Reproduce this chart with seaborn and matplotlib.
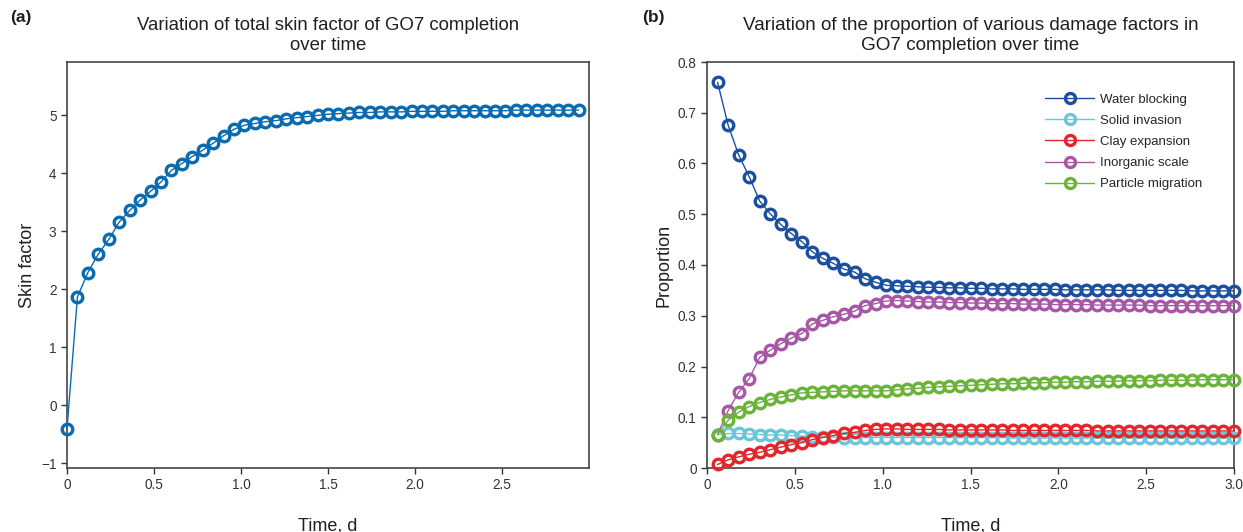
import numpy as np
import pandas as pd
import matplotlib
matplotlib.use("Agg")
import matplotlib.pyplot as plt
import seaborn as sns

#------------------------------ DATA ------------------------------
# (a) total skin factor, one point every 0.06 d from 0
time_a = np.round(np.arange(50) * 0.06, 2)
skin_factor = [-0.40, 1.87, 2.29, 2.61, 2.86, 3.16, 3.36, 3.54, 3.69, 3.85,
               4.05, 4.17, 4.29, 4.40, 4.52, 4.65, 4.76, 4.83, 4.86, 4.89,
               4.91, 4.94, 4.96, 4.98, 5.00, 5.02, 5.03, 5.04, 5.05, 5.05,
               5.06, 5.06, 5.06, 5.07, 5.07, 5.07, 5.07, 5.08, 5.08, 5.08,
               5.08, 5.08, 5.08, 5.09, 5.09, 5.09, 5.09, 5.09, 5.09, 5.09]

# (b) proportion of each damage factor, one point every 0.06 d from 0.06
time_b = np.round(np.arange(1, 51) * 0.06, 2)
water_blocking = [0.760, 0.676, 0.617, 0.574, 0.526, 0.501, 0.480, 0.462, 0.446, 0.426,
                  0.413, 0.403, 0.392, 0.386, 0.373, 0.366, 0.360, 0.359, 0.358, 0.357,
                  0.356, 0.356, 0.355, 0.355, 0.354, 0.354, 0.353, 0.353, 0.353, 0.352,
                  0.352, 0.352, 0.352, 0.351, 0.351, 0.351, 0.351, 0.351, 0.350, 0.350,
                  0.350, 0.350, 0.350, 0.350, 0.350, 0.349, 0.349, 0.349, 0.349, 0.349]
solid_invasion = [0.066, 0.068, 0.068, 0.067, 0.066, 0.065, 0.065, 0.064, 0.063, 0.062,
                  0.062, 0.061, 0.060, 0.060, 0.060, 0.060, 0.060, 0.060, 0.060, 0.060,
                  0.060, 0.060, 0.060, 0.060, 0.060, 0.060, 0.060, 0.060, 0.059, 0.059,
                  0.059, 0.059, 0.059, 0.059, 0.059, 0.059, 0.059, 0.059, 0.059, 0.059,
                  0.059, 0.059, 0.059, 0.059, 0.059, 0.059, 0.059, 0.059, 0.059, 0.059]
clay_expansion = [0.007, 0.016, 0.022, 0.027, 0.031, 0.036, 0.041, 0.046, 0.050, 0.056,
                  0.060, 0.064, 0.068, 0.070, 0.074, 0.076, 0.077, 0.077, 0.076, 0.076,
                  0.076, 0.076, 0.075, 0.075, 0.075, 0.075, 0.075, 0.075, 0.074, 0.074,
                  0.074, 0.074, 0.074, 0.074, 0.074, 0.074, 0.073, 0.073, 0.073, 0.073,
                  0.073, 0.073, 0.073, 0.073, 0.073, 0.073, 0.073, 0.073, 0.073, 0.073]
inorganic_scale = [0.066, 0.113, 0.149, 0.176, 0.218, 0.232, 0.245, 0.256, 0.265, 0.284,
                   0.291, 0.298, 0.303, 0.309, 0.320, 0.324, 0.329, 0.330, 0.329, 0.328,
                   0.327, 0.327, 0.326, 0.326, 0.325, 0.325, 0.324, 0.324, 0.324, 0.323,
                   0.323, 0.323, 0.322, 0.322, 0.322, 0.322, 0.321, 0.321, 0.321, 0.321,
                   0.321, 0.320, 0.320, 0.320, 0.320, 0.320, 0.320, 0.320, 0.320, 0.320]
particle_migration = [0.066, 0.094, 0.110, 0.121, 0.129, 0.135, 0.140, 0.144, 0.148, 0.149,
                      0.150, 0.151, 0.152, 0.152, 0.152, 0.152, 0.152, 0.154, 0.156, 0.157,
                      0.159, 0.160, 0.161, 0.162, 0.163, 0.164, 0.165, 0.166, 0.166, 0.167,
                      0.168, 0.168, 0.169, 0.169, 0.170, 0.170, 0.171, 0.171, 0.171, 0.172,
                      0.172, 0.172, 0.173, 0.173, 0.173, 0.173, 0.174, 0.174, 0.174, 0.174]

series_names = ["Water blocking", "Solid invasion", "Clay expansion",
                "Inorganic scale", "Particle migration"]
series_colors = ["#1c4f9e", "#6cc5d8", "#e3262b", "#a657a6", "#6ab43a"]

df_a = pd.DataFrame({"Time": time_a, "Skin": skin_factor})
df_b = pd.DataFrame({"Time": time_b, "Water blocking": water_blocking,
                     "Solid invasion": solid_invasion, "Clay expansion": clay_expansion,
                     "Inorganic scale": inorganic_scale,
                     "Particle migration": particle_migration})

#------------------------------ PLOT ------------------------------
sns.set_style("ticks")
plt.rcParams["font.family"] = ["Liberation Sans", "DejaVu Sans"]
plt.rcParams["axes.unicode_minus"] = True
txt_col = "#231f20"

fig = plt.figure(figsize=(12.43, 5.32), dpi=100)
ax1 = fig.add_axes([67 / 1243, 1 - 468 / 532, 522 / 1243, 406 / 532])
ax2 = fig.add_axes([707 / 1243, 1 - 468 / 532, 527 / 1243, 406 / 532])

mk = dict(marker="o", markersize=7.6, markerfacecolor="none", markeredgewidth=2.4,
          linewidth=1.0, clip_on=False)

sns.lineplot(data=df_a, x="Time", y="Skin", ax=ax1, color="#0a6bb0",
             markeredgecolor="#0a6bb0", **mk)
ax1.set_xlim(0, 3.0)
ax1.set_ylim(-1.08, 5.92)
ax1.set_xticks([0, 0.5, 1.0, 1.5, 2.0, 2.5])
ax1.set_xticklabels(["0", "0.5", "1.0", "1.5", "2.0", "2.5"])
ax1.set_yticks([-1, 0, 1, 2, 3, 4, 5])
ax1.set_ylabel("Skin factor", fontsize=13, color=txt_col)
ax1.set_title("Variation of total skin factor of GO7 completion\nover time",
              fontsize=13.4, color=txt_col, pad=9, linespacing=1.2)

for name, col in zip(series_names, series_colors):
    sns.lineplot(data=df_b, x="Time", y=name, ax=ax2, color=col, label=name,
                 markeredgecolor=col, **mk)
ax2.set_xlim(0, 3.0)
ax2.set_ylim(0, 0.8)
ax2.set_xticks([0, 0.5, 1.0, 1.5, 2.0, 2.5, 3.0])
ax2.set_xticklabels(["0", "0.5", "1.0", "1.5", "2.0", "2.5", "3.0"])
ax2.set_yticks(np.arange(0, 0.81, 0.1))
ax2.set_yticklabels(["0", "0.1", "0.2", "0.3", "0.4", "0.5", "0.6", "0.7", "0.8"])
ax2.set_ylabel("Proportion", fontsize=13, color=txt_col)
ax2.set_title("Variation of the proportion of various damage factors in\nGO7 completion over time",
              fontsize=13.6, color=txt_col, pad=9, linespacing=1.2)
ax2.legend(loc="upper right", bbox_to_anchor=(0.962, 0.952), frameon=False,
           fontsize=9.5, handlelength=3.7, labelspacing=0.68, handletextpad=0.45,
           markerscale=0.95)

for ax in (ax1, ax2):
    ax.set_xlabel("Time, d", fontsize=13, labelpad=18, color=txt_col)
    ax.tick_params(labelsize=9.8, colors="#333333", length=4, width=1)
    for sp in ax.spines.values():
        sp.set_visible(True)
        sp.set_color("#444444")
        sp.set_linewidth(1.2)
        sp.set_zorder(1)

fig.text(10 / 1243, 1 - 22 / 532, "(a)", fontsize=12.5, fontweight="bold", color=txt_col)
fig.text(642 / 1243, 1 - 22 / 532, "(b)", fontsize=12.5, fontweight="bold", color=txt_col)

fig.savefig("out.png", dpi=100)
